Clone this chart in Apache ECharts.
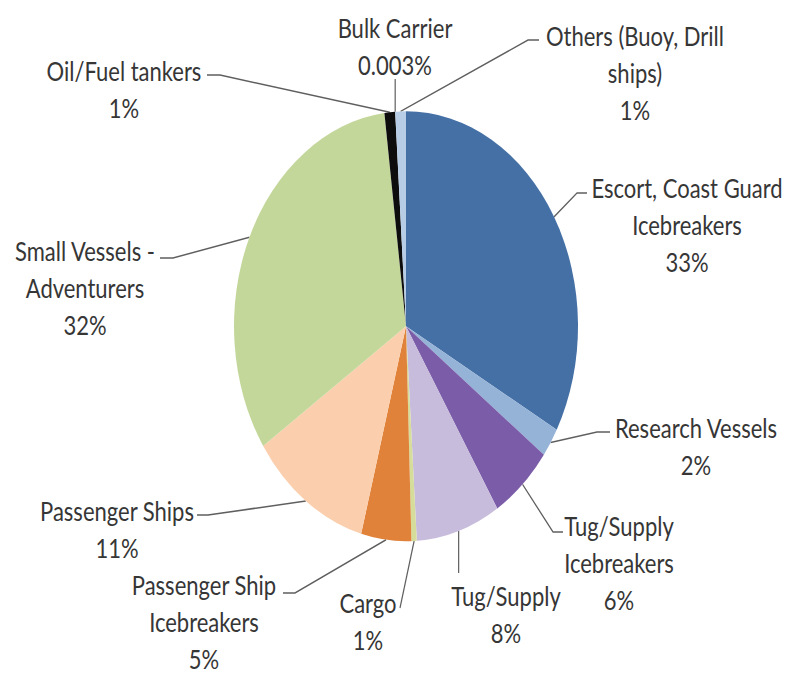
<!DOCTYPE html>
<html>
<head>
<meta charset="utf-8">
<script src="https://cdn.jsdelivr.net/npm/echarts@6/dist/echarts.min.js"></script>
<style>
  html, body { margin: 0; padding: 0; background: #ffffff; overflow: hidden; }
  #wrap { position: absolute; left: 0; top: 0; width: 788px; height: 539px;
          transform: scaleY(1.25); transform-origin: 0 0; }
</style>
</head>
<body>
<div id="wrap"></div>
<script>
// ---- data ----
const categories = [
  'Escort, Coast Guard\nIcebreakers',
  'Research Vessels',
  'Tug/Supply\nIcebreakers',
  'Tug/Supply',
  'Cargo',
  'Passenger Ship\nIcebreakers',
  'Passenger Ships',
  'Small Vessels -\nAdventurers',
  'Oil/Fuel tankers',
  'Bulk Carrier',
  'Others (Buoy, Drill\nships)'
];
const shares = [33, 2.2, 5.9, 7.9, 0.5, 4.7, 11.4, 32.4, 1.0, 0.003, 1.0];
const colors = ['#4570A6', '#95B3D7', '#7B5CA8', '#C8BCDC', '#D6DC9A', '#E0823A',
                '#FBCFAD', '#C4D79B', '#0D0D0D', '#7F7F7F', '#B7CDE6'];

// ---- layout (reference pixel coordinates; y is divided by the vertical stretch) ----
const SY = 1.25;
const LH = 29.5;
const labelPos = [
  [687, 187], [696, 427], [619, 525], [506, 595], [368, 602], [204, 584],
  [117, 510], [85, 250], [124, 70], [395, 27], [635, 35]
];
// leader line points after the start point on the slice edge (null x = keep start x)
const leaderPts = [
  [[577, 193], [587, 193]],
  [[597, 432], [610, 432]],
  [[553, 532], [563, 532]],
  [[null, 573]],
  [[400, 608]],
  [[295, 593], [283, 593]],
  [[208, 515], [197, 515]],
  [[173, 258], [160, 258]],
  [[220, 75], [207, 75]],
  [[null, 79]],
  [[528, 40], [539, 40]]
];

function fmtPct(v) {
  return (v < 0.01 ? String(v) : String(Math.round(v))) + '%';
}

const chart = echarts.init(document.getElementById('wrap'), null, { renderer: 'svg' });
chart.setOption({
  animation: false,
  backgroundColor: '#ffffff',
  series: [{
    type: 'pie',
    center: [406, 261],
    radius: 172,
    startAngle: 90,
    clockwise: true,
    avoidLabelOverlap: false,
    silent: true,
    itemStyle: { borderWidth: 0 },
    label: {
      show: true,
      position: 'outside',
      fontFamily: 'Lato',
      fontSize: 22,
      lineHeight: LH,
      color: '#363636',
      align: 'center',
      formatter: function (p) { return p.name + '\n' + fmtPct(p.value); }
    },
    labelLine: {
      show: true,
      lineStyle: { color: '#5f5f5f', width: 1.2 }
    },
    labelLayout: function (p) {
      const i = p.dataIndex;
      const out = {
        x: labelPos[i][0],
        y: labelPos[i][1] / SY - LH / 2,
        align: 'center',
        verticalAlign: 'top'
      };
      if (p.labelLinePoints && p.labelLinePoints.length) {
        const s = p.labelLinePoints[0];
        const pts = [[s[0], s[1]]];
        leaderPts[i].forEach(function (q) {
          pts.push([q[0] == null ? s[0] : q[0], q[1] / SY]);
        });
        out.labelLinePoints = pts;
      }
      return out;
    },
    data: categories.map(function (c, i) {
      return { name: c, value: shares[i], itemStyle: { color: colors[i] } };
    })
  }]
});
</script>
</body>
</html>
